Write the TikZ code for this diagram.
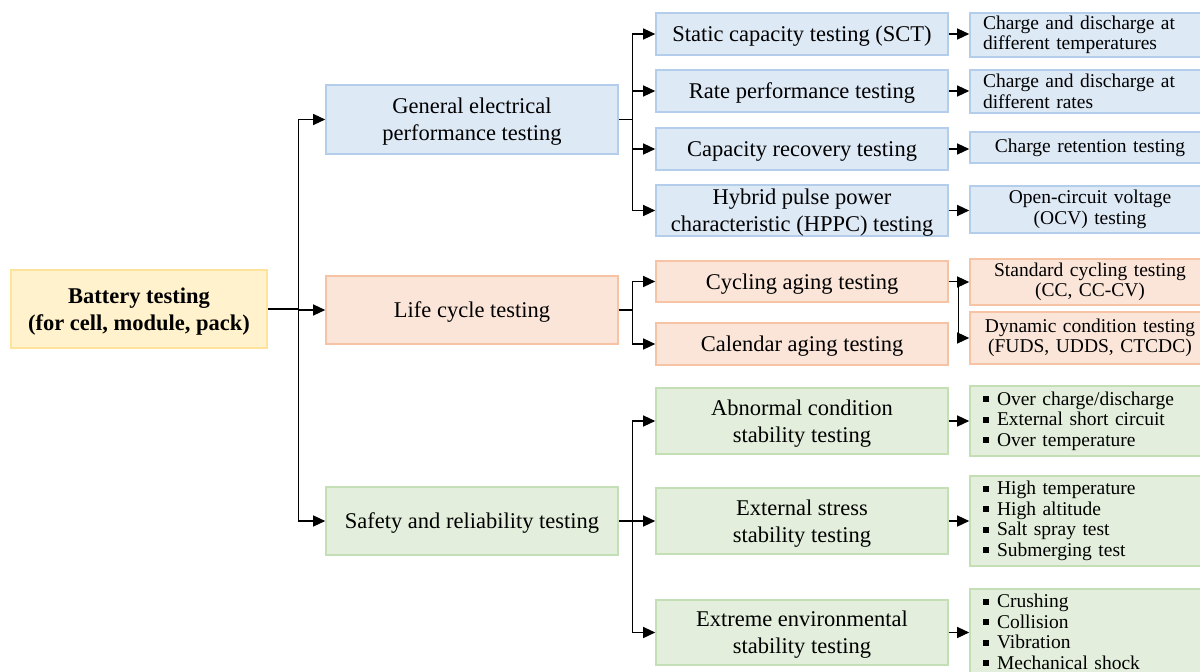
\documentclass[tikz,border=0pt]{standalone}
\usepackage{fontspec}
\setmainfont{Liberation Serif}
\usetikzlibrary{arrows.meta}
\definecolor{bluefill}{HTML}{DEE9F6}
\definecolor{blueline}{HTML}{B3CDEB}
\definecolor{orangefill}{HTML}{FBE5D8}
\definecolor{orangeline}{HTML}{F6C3A4}
\definecolor{greenfill}{HTML}{E3EFDC}
\definecolor{greenline}{HTML}{C4DFB6}
\definecolor{yellowfill}{HTML}{FFF2CC}
\definecolor{yellowline}{HTML}{FFE39A}
\newcommand{\bul}{\raisebox{3pt}{\rule{6pt}{6pt}}\hspace{8pt}}
\begin{document}
\begin{tikzpicture}[x=1pt,y=-1pt,
  box/.style={draw, line width=1.6pt, inner sep=0pt, align=center, text depth=0pt,
    font=\fontsize{22.5}{27}\selectfont},
  lvltwo/.style={box, minimum width=292pt},
  lvlthree/.style={draw, line width=1.6pt, inner ysep=0pt, inner xsep=13pt,
    text width=214pt, minimum width=240pt, align=center,
    font=\fontsize{19.5}{20.5}\selectfont},
  blue/.style={fill=bluefill, draw=blueline},
  orange/.style={fill=orangefill, draw=orangeline},
  green/.style={fill=greenfill, draw=greenline},
  arr/.style={line width=1.3pt, -{Triangle[length=12pt,width=11pt]}},
  wire/.style={line width=1.3pt}]
\useasboundingbox (0,0) rectangle (1200,672);
\clip (0,0) rectangle (1200,672);

% root
\node[box, fill=yellowfill, draw=yellowline, minimum width=256pt, minimum height=78pt,
  font=\fontsize{22.5}{27}\selectfont\bfseries] (root) at (139,309)
  {Battery testing\\(for cell, module, pack)};

% first level
\node[box, blue, minimum width=292pt, minimum height=69pt] (gen) at (472,119.5)
  {General electrical\\performance testing};
\node[box, orange, minimum width=292pt, minimum height=68pt] (life) at (472,310)
  {Life cycle testing};
\node[box, green, minimum width=292pt, minimum height=68pt] (safe) at (472,521)
  {Safety and reliability testing};

% second level
\node[lvltwo, blue, minimum height=42pt] (sct) at (802,34) {Static capacity testing (SCT)};
\node[lvltwo, blue, minimum height=42pt] (rate) at (802,91) {Rate performance testing};
\node[lvltwo, blue, minimum height=42pt] (crt) at (802,149) {Capacity recovery testing};
\node[lvltwo, blue, minimum height=51pt] (hppc) at (802,210.5)
  {Hybrid pulse power\\characteristic (HPPC) testing};
\node[lvltwo, orange, minimum height=41pt] (cyc) at (802,281.5) {Cycling aging testing};
\node[lvltwo, orange, minimum height=42pt] (cal) at (802,344) {Calendar aging testing};
\node[lvltwo, green, minimum height=66pt] (abn) at (802,421)
  {Abnormal condition\\stability testing};
\node[lvltwo, green, minimum height=66pt] (ext) at (802,521)
  {External stress\\stability testing};
\node[lvltwo, green, minimum height=65pt] (env) at (802,632.5)
  {Extreme environmental\\stability testing};

% third level
\node[lvlthree, blue, minimum height=44pt, align=left] (t1) at (1090,35)
  {Charge and discharge at\\different temperatures};
\node[lvlthree, blue, minimum height=43pt, align=left] (t2) at (1090,91.5)
  {Charge and discharge at\\different rates};
\node[lvlthree, blue, minimum height=31pt] (t3) at (1090,147.5)
  {Charge retention testing};
\node[lvlthree, blue, minimum height=47pt] (t4) at (1090,209.5)
  {Open-circuit voltage\\(OCV) testing};
\node[lvlthree, orange, minimum height=46pt] (std) at (1090,282)
  {Standard cycling testing\\(CC, CC-CV)};
\node[lvlthree, orange, minimum height=52pt] (dyn) at (1090,338)
  {Dynamic condition testing\\(FUDS, UDDS, CTCDC)};
\node[lvlthree, green, minimum height=70pt, align=left] (l1) at (1090,421)
  {\bul Over charge/discharge\\\bul External short circuit\\\bul Over temperature};
\node[lvlthree, green, minimum height=90pt, align=left] (l2) at (1090,521)
  {\bul High temperature\\\bul High altitude\\\bul Salt spray test\\\bul Submerging test};
\node[lvlthree, green, minimum height=86pt, align=left] (l3) at (1090,632)
  {\bul Crushing\\\bul Collision\\\bul Vibration\\\bul Mechanical shock};

% root to first level
\draw[wire] (root.east) -- ++(31,0) coordinate (j0);
\draw[arr] (j0) |- (gen.west);
\draw[arr] (j0) |- (life.west);
\draw[arr] (j0) |- (safe.west);

% first to second level
\draw[wire] (gen.east) -- ++(14,0) coordinate (j1);
\foreach \n in {sct,rate,crt,hppc} \draw[arr] (j1) |- (\n.west);
\draw[wire] (life.east) -- ++(14,0) coordinate (j2);
\foreach \n in {cyc,cal} \draw[arr] (j2) |- (\n.west);
\draw[wire] (safe.east) -- ++(14,0) coordinate (j3);
\foreach \n in {abn,ext,env} \draw[arr] (j3) |- (\n.west);

% second to third level
\draw[arr] (sct.east) -- (sct.east -| t1.west);
\draw[arr] (rate.east) -- (rate.east -| t2.west);
\draw[arr] (crt.east) -- (crt.east -| t3.west);
\draw[arr] (hppc.east) -- (hppc.east -| t4.west);
\draw[wire] (cyc.east) -- ++(10,0) coordinate (j4);
\draw[arr] (j4) |- (std.west);
\draw[arr] (j4) |- (dyn.west);
\draw[arr] (abn.east) -- (abn.east -| l1.west);
\draw[arr] (ext.east) -- (ext.east -| l2.west);
\draw[arr] (env.east) -- (env.east -| l3.west);
\end{tikzpicture}
\end{document}
